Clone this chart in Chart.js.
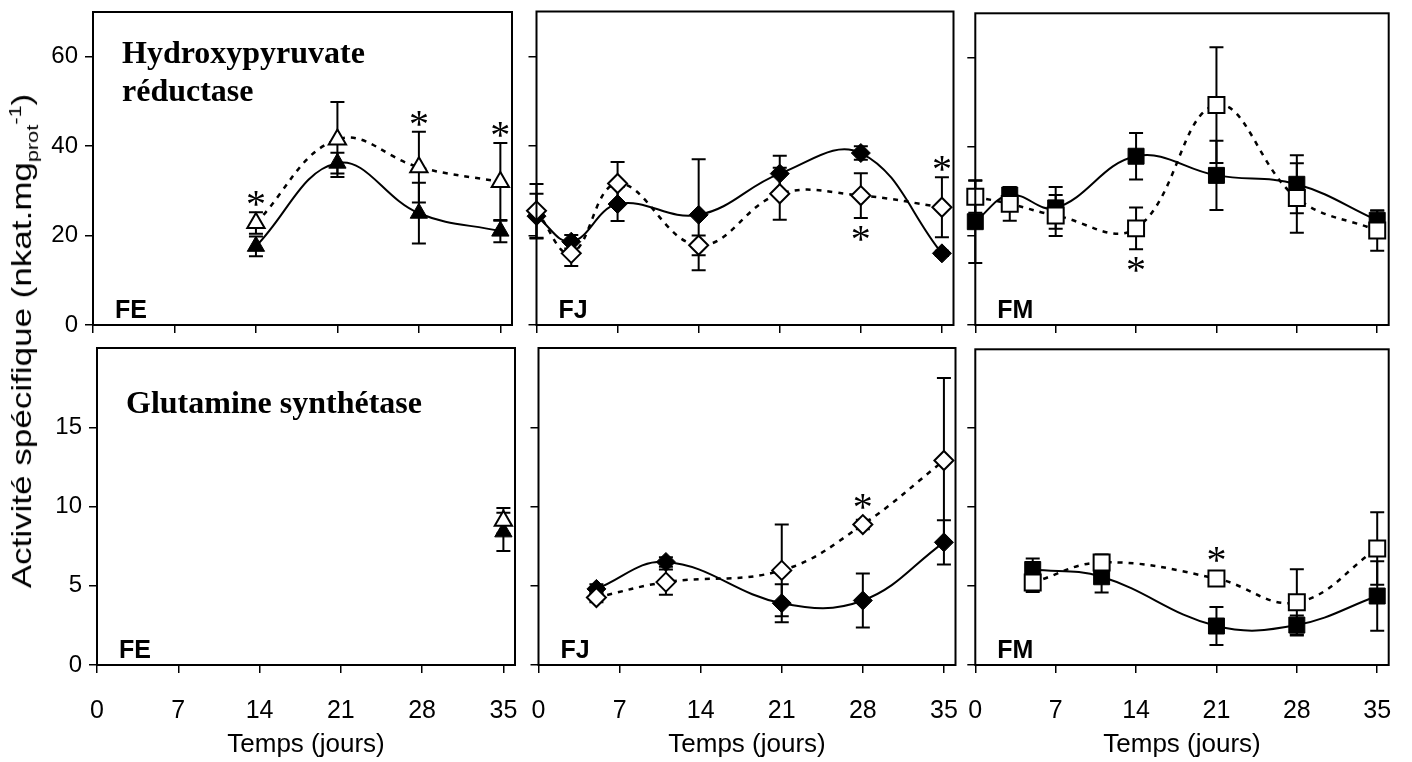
<!DOCTYPE html>
<html lang="fr">
<head>
<meta charset="utf-8">
<title>Activité spécifique</title>
<script src="https://cdn.jsdelivr.net/npm/chart.js@4.4.0/dist/chart.umd.min.js"></script>
<style>
  html, body { margin: 0; padding: 0; background: #fff; }
  #page { position: relative; width: 1412px; height: 762px; overflow: hidden; }
  #page canvas { position: absolute; }
  #titreY {
    position: absolute; left: 24px; top: 341px; z-index: 5;
    transform: translate(-50%, -50%) rotate(-90deg) scaleX(1.25);
    font: 28px 'Liberation Sans', Arial, sans-serif; color: #000; white-space: nowrap;
  }
  #titreY sub, #titreY sup { font-size: 62%; }
</style>
</head>
<body>
<div id="page">
  <div id="titreY">Activité spécifique (nkat.mg<sub>prot</sub><sup>-1</sup>)</div>
</div>
<script>
// axes
const jours = [0, 7, 14, 21, 28, 35];
const graduationsHPR = [0, 20, 40, 60];
const graduationsGS = [0, 5, 10, 15];

// Hydroxypyruvate réductase - FE
const hprFeJours = [14, 21, 28, 35];
const hprFePlein = [17.6, 36.2, 25.0, 21.0];
const hprFePleinErr = [2.2, 2.3, 6.8, 2.5];
const hprFeVide = [22.8, 41.5, 35.3, 32.0];
const hprFeVideErr = [2.4, 8.4, 7.9, 8.7];
const hprFeEtoiles = [[0, 'haut'], [2, 'haut'], [3, 'haut']];

// Hydroxypyruvate réductase - FJ
const hprFjJours = [0, 3, 7, 14, 21, 28, 35];
const hprFjPlein = [24.3, 18.6, 27.0, 24.6, 33.8, 38.4, 16.0];
const hprFjPleinErr = [5.0, 1.5, 3.8, 12.4, 4.0, 1.5, 0.6];
const hprFjVide = [25.5, 16.0, 31.6, 17.8, 29.3, 28.9, 26.3];
const hprFjVideErr = [6.0, 2.8, 4.8, 2.2, 5.8, 5.0, 6.7];
const hprFjEtoiles = [[5, 'bas'], [6, 'haut']];

// Hydroxypyruvate réductase - FM
const hprFmJours = [0, 3, 7, 14, 21, 28, 35];
const hprFmPlein = [23.2, 29.2, 26.3, 37.9, 33.6, 31.6, 23.5];
const hprFmPleinErr = [9.3, 1.0, 4.7, 5.2, 7.8, 6.5, 2.2];
const hprFmVide = [28.8, 27.2, 24.6, 21.7, 49.4, 28.5, 21.2];
const hprFmVideErr = [3.6, 3.8, 4.6, 4.7, 13.0, 7.8, 4.5];
const hprFmEtoiles = [[3, 'bas']];

// Glutamine synthétase - FE
const gsFeJours = [35];
const gsFePlein = [8.4];
const gsFePleinErr = [1.2];
const gsFeVide = [9.1];
const gsFeVideErr = [0.8];
const gsFeEtoiles = [];

// Glutamine synthétase - FJ
const gsFjJours = [5, 11, 21, 28, 35];
const gsFjPlein = [4.8, 6.5, 3.9, 4.07, 7.74];
const gsFjPleinErr = [0.3, 0.3, 1.2, 1.7, 1.4];
const gsFjVide = [4.26, 5.23, 5.97, 8.86, 12.9];
const gsFjVideErr = [0.3, 0.8, 2.9, 0.3, 5.2];
const gsFjEtoiles = [[3, 'haut']];

// Glutamine synthétase - FM
const gsFmJours = [5, 11, 21, 28, 35];
const gsFmPlein = [6.05, 5.59, 2.47, 2.53, 4.37];
const gsFmPleinErr = [0.7, 1.0, 1.2, 0.6, 2.2];
const gsFmVide = [5.23, 6.5, 5.48, 3.97, 7.38];
const gsFmVideErr = [0.6, 0.5, 0.2, 2.1, 2.3];
const gsFmEtoiles = [[2, 'haut']];

Chart.defaults.font.family = "'Liberation Sans', Arial, sans-serif";
Chart.defaults.color = '#000';

const panneaux = [
  {rang: 0, col: 0, cadre: [93, 8, 514, 325], nom: 'FE', titre: ['Hydroxypyruvate', 'réductase'], forme: 'triangle', rayon: 10,
    x: hprFeJours, plein: hprFePlein, pleinErr: hprFePleinErr, vide: hprFeVide, videErr: hprFeVideErr, etoiles: hprFeEtoiles},
  {rang: 0, col: 1, cadre: [535, 8, 955, 325], nom: 'FJ', titre: [], forme: 'rectRot', rayon: 9.5,
    x: hprFjJours, plein: hprFjPlein, pleinErr: hprFjPleinErr, vide: hprFjVide, videErr: hprFjVideErr, etoiles: hprFjEtoiles},
  {rang: 0, col: 2, cadre: [972, 8, 1392, 325], nom: 'FM', titre: [], forme: 'rect', rayon: 11.3,
    x: hprFmJours, plein: hprFmPlein, pleinErr: hprFmPleinErr, vide: hprFmVide, videErr: hprFmVideErr, etoiles: hprFmEtoiles},
  {rang: 1, col: 0, cadre: [97, 348, 517, 665], nom: 'FE', titre: ['Glutamine synthétase'], forme: 'triangle', rayon: 10,
    x: gsFeJours, plein: gsFePlein, pleinErr: gsFePleinErr, vide: gsFeVide, videErr: gsFeVideErr, etoiles: gsFeEtoiles},
  {rang: 1, col: 1, cadre: [537, 348, 957, 665], nom: 'FJ', titre: [], forme: 'rectRot', rayon: 9.5,
    x: gsFjJours, plein: gsFjPlein, pleinErr: gsFjPleinErr, vide: gsFjVide, videErr: gsFjVideErr, etoiles: gsFjEtoiles},
  {rang: 1, col: 2, cadre: [972, 348, 1392, 665], nom: 'FM', titre: [], forme: 'rect', rayon: 11.3,
    x: gsFmJours, plein: gsFmPlein, pleinErr: gsFmPleinErr, vide: gsFmVide, videErr: gsFmVideErr, etoiles: gsFmEtoiles}
];

// barres d'erreur, cadre, etoiles et textes
const decor = {
  id: 'decor',
  beforeDatasetsDraw(chart) {
    const {ctx} = chart;
    const y = chart.scales.y;
    ctx.save();
    ctx.strokeStyle = '#000';
    ctx.lineWidth = 2;
    chart.data.datasets.forEach((ds, i) => {
      chart.getDatasetMeta(i).data.forEach((pt, j) => {
        const v = ds.data[j].y, e = ds.erreurs[j];
        const y1 = y.getPixelForValue(v - e), y2 = y.getPixelForValue(v + e);
        ctx.beginPath();
        ctx.moveTo(pt.x, y1); ctx.lineTo(pt.x, y2);
        ctx.moveTo(pt.x - 7, y1); ctx.lineTo(pt.x + 7, y1);
        ctx.moveTo(pt.x - 7, y2); ctx.lineTo(pt.x + 7, y2);
        ctx.stroke();
      });
    });
    ctx.restore();
  },
  afterDraw(chart) {
    const {ctx, chartArea: a} = chart;
    const p = chart.options.plugins.decor;
    const y = chart.scales.y;
    ctx.save();
    ctx.strokeStyle = '#000';
    ctx.lineWidth = 2;
    ctx.strokeRect(a.left, a.top, a.right - a.left, a.bottom - a.top);

    // etoiles sur la serie vide
    const ds = chart.data.datasets[0];
    const meta = chart.getDatasetMeta(0);
    ctx.fillStyle = '#000';
    ctx.font = "40px 'Liberation Serif', 'Times New Roman', serif";
    ctx.textAlign = 'center';
    ctx.textBaseline = 'alphabetic';
    p.etoiles.forEach(([i, pos]) => {
      const pt = meta.data[i];
      const v = ds.data[i].y, e = ds.erreurs[i];
      let yc;
      if (pos === 'haut') yc = Math.min(y.getPixelForValue(v + e), pt.y - 10) - 14;
      else yc = Math.max(y.getPixelForValue(v - e), pt.y + 10) + 15;
      ctx.fillText('*', pt.x, yc + 19);
    });

    ctx.textAlign = 'left';
    ctx.font = "bold 25px 'Liberation Sans', Arial, sans-serif";
    ctx.fillText(p.nom, a.left + 22, a.bottom - 7);
    ctx.font = "bold 32px 'Liberation Serif', 'Times New Roman', serif";
    p.titre.forEach((t, k) => {
      ctx.fillText(t, a.left + 29, a.top + p.decalTitre + k * 38);
    });
    ctx.restore();
  }
};

function creerPanneau(p) {
  const haut = p.rang === 0;
  const [l, t, r, b] = p.cadre;
  const padL = p.col === 0 ? l - 40 : 10;
  const padT = haut ? t : 12;
  const padR = 10;
  const padB = haut ? 16 : 762 - b;

  const canvas = document.createElement('canvas');
  canvas.width = padL + (r - l) + padR;
  canvas.height = padT + (b - t) + padB;
  canvas.style.left = (l - padL) + 'px';
  canvas.style.top = (t - padT) + 'px';
  document.getElementById('page').appendChild(canvas);

  const points = vals => p.x.map((x, i) => ({x: x, y: vals[i]}));
  const grille = {drawOnChartArea: false, drawTicks: true, tickLength: 8, color: '#000', lineWidth: 1.5};

  new Chart(canvas.getContext('2d'), {
    type: 'line',
    data: {
      datasets: [
        {
          data: points(p.vide), erreurs: p.videErr,
          borderColor: '#000', borderWidth: 2.5, borderDash: [5, 6], tension: 0.4,
          pointStyle: p.forme, pointRadius: p.rayon, pointBackgroundColor: '#fff',
          pointBorderColor: '#000', pointBorderWidth: 2, clip: false
        },
        {
          data: points(p.plein), erreurs: p.pleinErr,
          borderColor: '#000', borderWidth: 2, tension: 0.4,
          pointStyle: p.forme, pointRadius: p.rayon, pointBackgroundColor: '#000',
          pointBorderColor: '#000', pointBorderWidth: 1, clip: false
        }
      ]
    },
    options: {
      responsive: false,
      animation: false,
      events: [],
      layout: {padding: {top: padT, right: padR, left: 0, bottom: 0}},
      plugins: {
        legend: {display: false},
        tooltip: {enabled: false},
        decor: {nom: p.nom, titre: p.titre, etoiles: p.etoiles, decalTitre: haut ? 51 : 65}
      },
      scales: {
        x: {
          type: 'linear', min: 0, max: 36,
          afterBuildTicks: ax => { ax.ticks = jours.map(v => ({value: v})); },
          afterFit: ax => { ax.height = padB; ax.paddingLeft = 0; ax.paddingRight = 0; },
          grid: grille,
          border: {display: false},
          ticks: {display: !haut, font: {size: 25}, padding: 23, maxRotation: 0, autoSkip: false},
          title: {display: !haut, text: 'Temps (jours)', font: {size: 26}, padding: {top: 0, bottom: 2}}
        },
        y: {
          min: 0, max: haut ? 70 : 20,
          afterBuildTicks: ax => { ax.ticks = (haut ? graduationsHPR : graduationsGS).map(v => ({value: v})); },
          afterFit: ax => { ax.width = padL; ax.paddingTop = 0; ax.paddingBottom = 0; },
          grid: grille,
          border: {display: false},
          ticks: {display: p.col === 0, font: {size: 24}, padding: 7}
        }
      }
    },
    plugins: [decor]
  });
}

panneaux.forEach(creerPanneau);
</script>
</body>
</html>
